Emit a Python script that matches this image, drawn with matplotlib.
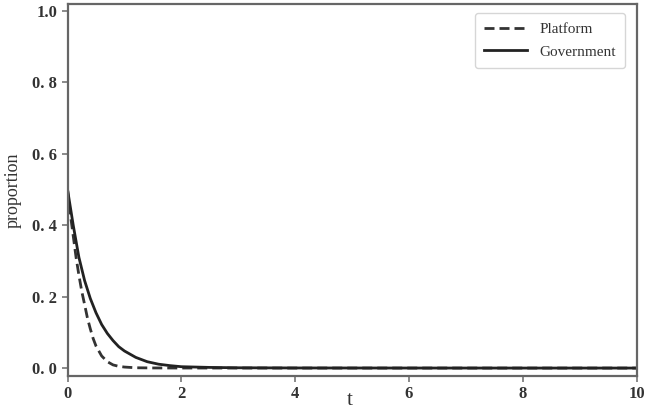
import matplotlib.pyplot as plt

# values
t_gov = [0, 0.1, 0.2, 0.3, 0.4, 0.5, 0.6, 0.7, 0.8, 0.9, 1.0, 1.2, 1.4, 1.6,
         1.8, 2.0, 2.5, 3.0, 4.0, 6.0, 8.0, 10.0]
government = [0.50, 0.40, 0.31, 0.245, 0.195, 0.155, 0.122, 0.097, 0.077, 0.060,
              0.048, 0.030, 0.018, 0.011, 0.007, 0.004, 0.002, 0.001, 0.0005,
              0.0003, 0.0002, 0.0002]

t_plat = [0, 0.05, 0.1, 0.15, 0.2, 0.25, 0.3, 0.35, 0.4, 0.45, 0.5, 0.6, 0.7,
          0.8, 0.9, 1.0, 1.2, 1.5, 2.0, 4.0, 6.0, 8.0, 10.0]
platform = [0.50, 0.43, 0.37, 0.31, 0.26, 0.215, 0.178, 0.14, 0.11, 0.083,
            0.062, 0.034, 0.018, 0.009, 0.005, 0.003, 0.001, 0.0005, 0.0003,
            0.0002, 0.0002, 0.0002, 0.0002]

yticks = [0.0, 0.2, 0.4, 0.6, 0.8, 1.0]
ylabels = ['0. 0', '0. 2', '0. 4', '0. 6', '0. 8', '1.0']
xticks = [0, 2, 4, 6, 8, 10]

plt.rcParams['font.family'] = ['Liberation Serif', 'DejaVu Serif']

fig = plt.figure(figsize=(6.45, 4.12), dpi=100)
ax = fig.add_axes([0.1047, 0.0874, 0.8823, 0.9029])

ax.plot(t_plat, platform, color='#333333', lw=2.0, ls=(0, (3.6, 1.8)), label='Platform')
ax.plot(t_gov, government, color='#222222', lw=2.0, label='Government')

ax.set_xlim(0, 10)
ax.set_ylim(-0.022, 1.019)
ax.set_xticks(xticks)
ax.set_yticks(yticks)
ax.set_yticklabels(ylabels)
ax.tick_params(labelsize=12, color='#777777', width=1.2, length=4)
for lab in ax.get_xticklabels() + ax.get_yticklabels():
    lab.set_fontweight('bold')
    lab.set_color('#333333')
for s in ax.spines.values():
    s.set_color('#666666')
    s.set_linewidth(1.6)

ax.set_xlabel('t', fontsize=15, color='#333333', va='center')
ax.xaxis.set_label_coords(0.495, -0.065)
ax.set_ylabel('proportion', fontsize=13, color='#333333', va='center')
ax.yaxis.set_label_coords(-0.095, 0.5)

leg = ax.legend(loc='upper right', fontsize=11, frameon=True, handlelength=2.8,
                borderpad=0.6, labelspacing=0.6, bbox_to_anchor=(0.993, 0.996))
leg.get_frame().set_edgecolor('#cccccc')
for txt in leg.get_texts():
    txt.set_color('#333333')

fig.savefig('out.png', dpi=100)
